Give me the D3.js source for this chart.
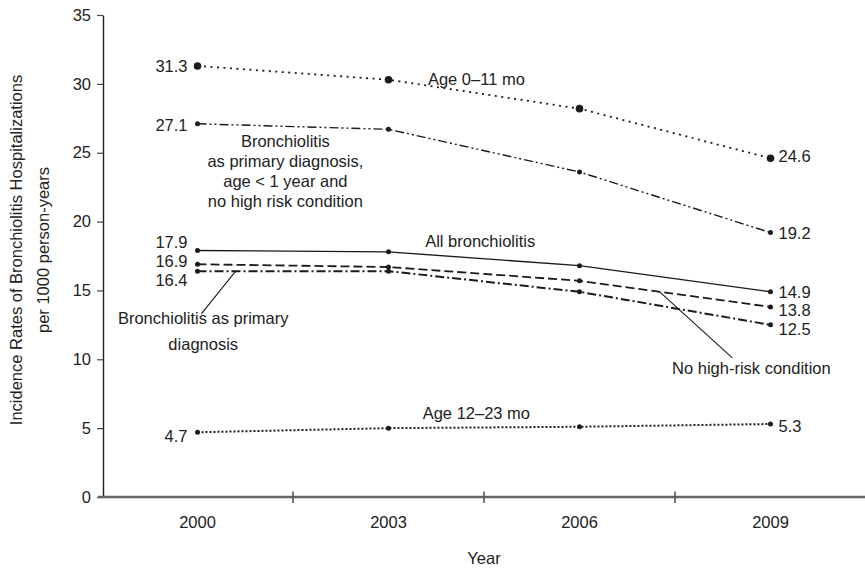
<!DOCTYPE html>
<html>
<head>
<meta charset="utf-8">
<script src="https://cdn.jsdelivr.net/npm/d3@7"></script>
<style>
  html, body { margin: 0; padding: 0; background: #fff; }
  svg { display: block; font-family: "Liberation Sans", Arial, sans-serif; }
</style>
</head>
<body>
<svg id="chart" width="865" height="568"></svg>
<script>
// ---- data ----
const years = ["2000", "2003", "2006", "2009"];
const yTicks = [0, 5, 10, 15, 20, 25, 30, 35];
const age0to11 = [31.3, 30.3, 28.2, 24.6];
const primaryLt1NoHighRisk = [27.1, 26.7, 23.6, 19.2];
const allBronchiolitis = [17.9, 17.8, 16.8, 14.9];
const noHighRisk = [16.9, 16.7, 15.7, 13.8];
const primaryDiagnosis = [16.4, 16.4, 14.9, 12.5];
const age12to23 = [4.7, 5.0, 5.1, 5.3];
const yTitle = ["Incidence Rates of Bronchiolitis Hospitalizations", "per 1000 person-years"];
const xTitle = "Year";

// ---- layout ----
const W = 865, H = 568;
const svg = d3.select("#chart");
const ink = "#1b1b1b";
const fs = 16.5;

const x = d3.scaleBand().domain(years).range([102, 866]).paddingInner(0).paddingOuter(0);
const cx = d => x(d) + x.bandwidth() / 2;
const y = d3.scaleLinear().domain([0, 35]).range([497, 15]);
// fractional position along the year index (for annotations)
const xi = d3.scaleLinear().domain([0, years.length - 1]).range([cx(years[0]), cx(years[years.length - 1])]);

// ---- axes ----
const yAxis = svg.append("g").attr("transform", `translate(${x.range()[0] + 1},0)`)
  .call(d3.axisLeft(y).tickValues(yTicks).tickSize(6).tickPadding(6).tickSizeOuter(0));
yAxis.select(".domain").attr("stroke", "#222").attr("stroke-width", 1.4);
yAxis.selectAll(".tick line").attr("stroke", "#444").attr("stroke-width", 1.2);
yAxis.selectAll(".tick text").attr("font-size", fs).attr("fill", "#222")
  .attr("font-family", "Liberation Sans, Arial, sans-serif");

// x axis baseline extends to the right edge
svg.append("line").attr("x1", x.range()[0] - 4).attr("x2", W).attr("y1", y(0)).attr("y2", y(0))
  .attr("stroke", "#666").attr("stroke-width", 2.4);
// tick marks between categories
svg.selectAll(".xtick").data(years.slice(1)).join("line")
  .attr("x1", d => x(d)).attr("x2", d => x(d))
  .attr("y1", y(0) - 5.5).attr("y2", y(0) + 6)
  .attr("stroke", "#555").attr("stroke-width", 1.6);
svg.selectAll(".xlab").data(years).join("text")
  .attr("x", d => cx(d)).attr("y", y(0) + 31)
  .attr("text-anchor", "middle").attr("font-size", fs).attr("fill", "#222").text(d => d);
svg.append("text").attr("x", 484).attr("y", 564).attr("text-anchor", "middle")
  .attr("font-size", fs).attr("fill", "#222").text(xTitle);

// y title
svg.append("text").attr("transform", "translate(22,250) rotate(-90)").attr("text-anchor", "middle")
  .attr("font-size", fs).attr("fill", "#222").text(yTitle[0]);
svg.append("text").attr("transform", "translate(49,250) rotate(-90)").attr("text-anchor", "middle")
  .attr("font-size", fs).attr("fill", "#222").text(yTitle[1]);

// ---- series ----
const series = [
  { values: age0to11, dash: "2,4.5", w: 1.8, r: 3.8 },
  { values: primaryLt1NoHighRisk, dash: "9,3,2,3,2,3", w: 1.4, r: 2.5 },
  { values: allBronchiolitis, dash: null, w: 1.4, r: 2.5 },
  { values: noHighRisk, dash: "9,4", w: 1.8, r: 2.5 },
  { values: primaryDiagnosis, dash: "9,3,2,3", w: 2, r: 2.5 },
  { values: age12to23, dash: "2,2", w: 2, r: 2.5 }
];
const line = d3.line().x((d, i) => cx(years[i])).y(d => y(d));
series.forEach(s => {
  svg.append("path").attr("d", line(s.values)).attr("fill", "none")
    .attr("stroke", ink).attr("stroke-width", s.w)
    .attr("stroke-dasharray", s.dash);
  svg.selectAll(null).data(s.values).join("circle")
    .attr("cx", (d, i) => cx(years[i])).attr("cy", d => y(d)).attr("r", s.r).attr("fill", ink);
});

// ---- end-value labels ----
const leftNudge = [0, 1, -8.5, -3.3, 9, 4];
const rightNudge = [-2, 1, 0, 3, 4, 2];
series.forEach((s, k) => {
  const v0 = s.values[0], v1 = s.values[s.values.length - 1];
  svg.append("text").attr("x", cx(years[0]) - 10).attr("y", y(v0) + leftNudge[k])
    .attr("dy", "0.35em").attr("text-anchor", "end").attr("font-size", fs).attr("fill", "#222")
    .text(d3.format(".1f")(v0));
  svg.append("text").attr("x", cx(years[years.length - 1]) + 8).attr("y", y(v1) + rightNudge[k])
    .attr("dy", "0.35em").attr("text-anchor", "start").attr("font-size", fs).attr("fill", "#222")
    .text(d3.format(".1f")(v1));
});

// ---- annotations ----
function note(lines, ix, v, lh, anchor) {
  const t = svg.append("text").attr("x", xi(ix)).attr("y", y(v)).attr("text-anchor", anchor || "middle")
    .attr("font-size", fs).attr("fill", "#222");
  lines.forEach((l, i) => t.append("tspan").attr("x", xi(ix)).attr("dy", i === 0 ? "0.35em" : lh).text(l));
}
note(["Age 0\u201311 mo"], 1.46, 30.35);
note(["Bronchiolitis", "as primary diagnosis,", "age < 1 year and", "no high risk condition"], 0.46, 25.8, 20);
note(["All bronchiolitis"], 1.48, 18.6);
note(["Bronchiolitis as primary", "diagnosis"], 0.03, 13.0, 26);
note(["No high-risk condition"], 2.9, 9.36);
note(["Age 12\u201323 mo"], 1.46, 6.1);

// leader lines
svg.append("line").attr("x1", xi(0.2)).attr("y1", y(16.4)).attr("x2", xi(0.02)).attr("y2", y(13.3))
  .attr("stroke", ink).attr("stroke-width", 1.1);
svg.append("line").attr("x1", xi(2.42)).attr("y1", y(14.9)).attr("x2", xi(2.8)).attr("y2", y(10.1))
  .attr("stroke", ink).attr("stroke-width", 1.1);
</script>
</body>
</html>
